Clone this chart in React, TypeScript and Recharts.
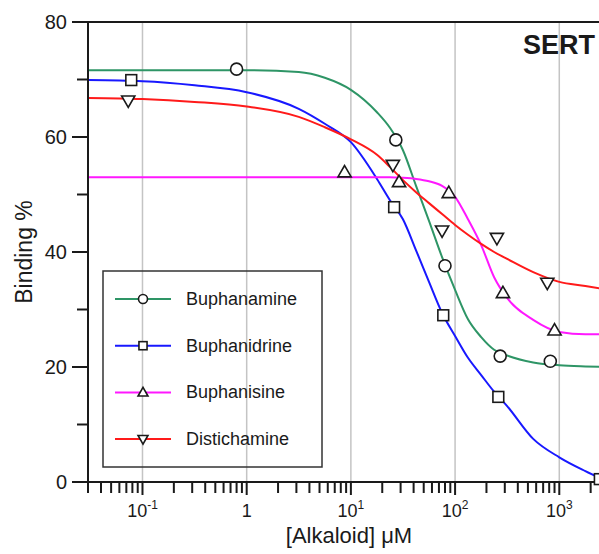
import React from 'react';
import { ComposedChart, Line, Scatter, XAxis, YAxis, ReferenceLine } from 'recharts';

const fitConc = [0.03, 0.1, 0.316, 1, 3.16, 5.62, 10, 17.8, 23.7, 31.6, 42.2, 56.2, 75, 100, 133, 178, 237, 316, 562, 1000, 1780, 3000];

const buphanamineFit = [71.6, 71.6, 71.6, 71.6, 71.3, 70.3, 68.2, 64.3, 61.6, 57.7, 51.5, 45.4, 39.1, 33.4, 28.3, 25.2, 23.0, 22.0, 20.8, 20.3, 20.1, 20.0];
const buphanidrineFit = [69.9, 69.7, 69.0, 67.8, 64.9, 62.3, 59.1, 52.7, 49.0, 45.7, 40.3, 34.8, 29.4, 25.4, 21.6, 18.6, 15.7, 13.2, 7.5, 4.3, 1.9, 0.0];
const buphanisineFit = [53.0, 53.0, 53.0, 53.0, 53.0, 53.0, 53.0, 53.0, 53.0, 52.9, 52.7, 52.3, 51.5, 49.6, 45.7, 41.2, 35.6, 32.0, 28.2, 26.1, 25.7, 25.7];
const distichamineFit = [66.8, 66.6, 66.1, 65.3, 63.5, 61.7, 59.6, 56.9, 54.8, 52.5, 50.4, 48.5, 46.6, 44.7, 43.0, 41.4, 40.0, 38.8, 36.5, 34.8, 34.1, 33.4];

// measured points
const buphanamineX = [0.8, 27, 80, 271, 820];
const buphanamineY = [71.8, 59.5, 37.6, 21.9, 21.0];
const buphanidrineX = [0.078, 26, 77, 260, 2450];
const buphanidrineY = [69.9, 47.8, 29.0, 14.8, 0.5];
const buphanisineX = [8.7, 29, 87, 288, 900];
const buphanisineY = [53.9, 52.2, 50.3, 32.9, 26.4];
const distichamineX = [0.073, 25.3, 75, 252, 767];
const distichamineY = [66.3, 55.1, 43.7, 42.4, 34.6];

const majorX = [0.1, 1, 10, 100, 1000];
const majorXBase = ['10', '1', '10', '10', '10'];
const majorXExp = ['-1', '', '1', '2', '3'];
const xTicks = [
  0.03, 0.04, 0.05, 0.06, 0.07, 0.08, 0.09,
  0.1, 0.2, 0.3, 0.4, 0.5, 0.6, 0.7, 0.8, 0.9,
  1, 2, 3, 4, 5, 6, 7, 8, 9,
  10, 20, 30, 40, 50, 60, 70, 80, 90,
  100, 200, 300, 400, 500, 600, 700, 800, 900,
  1000, 2000, 3000,
];
const yTicks = [0, 10, 20, 30, 40, 50, 60, 70, 80];
const yMajor = [0, 20, 40, 60, 80];

const FONT = '"Liberation Sans", Arial, sans-serif';
const INK = '#1a1a1a';

const toPoints = (xs: number[], ys: number[]) => xs.map((x, i) => ({ x, y: ys[i] }));

const series = [
  { name: 'Buphanamine', color: '#2e9566', fit: buphanamineFit, pts: toPoints(buphanamineX, buphanamineY), marker: 'circle' },
  { name: 'Buphanidrine', color: '#1818ff', fit: buphanidrineFit, pts: toPoints(buphanidrineX, buphanidrineY), marker: 'square' },
  { name: 'Buphanisine', color: '#ff18ff', fit: buphanisineFit, pts: toPoints(buphanisineX, buphanisineY), marker: 'up' },
  { name: 'Distichamine', color: '#ff1a1a', fit: distichamineFit, pts: toPoints(distichamineX, distichamineY), marker: 'down' },
];

const Marker = ({ kind, cx, cy, s }: { kind: string; cx: number; cy: number; s: number }) => {
  const common = { fill: '#fff', stroke: INK, strokeWidth: 1.6 };
  if (kind === 'circle') return <circle cx={cx} cy={cy} r={s * 0.5} {...common} />;
  if (kind === 'square') return <rect x={cx - s * 0.45} y={cy - s * 0.45} width={s * 0.9} height={s * 0.9} {...common} />;
  const h = s * 0.5;
  if (kind === 'up') {
    return <polygon points={`${cx},${cy - h * 1.1} ${cx - h * 1.1},${cy + h * 0.8} ${cx + h * 1.1},${cy + h * 0.8}`} {...common} />;
  }
  return <polygon points={`${cx},${cy + h * 1.1} ${cx - h * 1.1},${cy - h * 0.8} ${cx + h * 1.1},${cy - h * 0.8}`} {...common} />;
};

const XTick = (props: any) => {
  const { x, y, payload } = props;
  const idx = majorX.findIndex((m) => Math.abs(m - payload.value) < 1e-9);
  const major = idx >= 0;
  return (
    <g>
      <line x1={x} x2={x} y1={y} y2={y + (major ? 13 : 11)} stroke={INK} strokeWidth={2} />
      {major && (
        <text x={x} y={y + 35} textAnchor="middle" fontFamily={FONT} fontSize={18} fill={INK}>
          <tspan>{majorXBase[idx]}</tspan>
          {majorXExp[idx] && (
            <tspan dy={-8} fontSize={12}>{majorXExp[idx]}</tspan>
          )}
        </text>
      )}
    </g>
  );
};

const YTick = (props: any) => {
  const { x, y, payload } = props;
  const major = yMajor.includes(payload.value);
  return (
    <g>
      <line x1={x - (major ? 16 : 11)} x2={x} y1={y} y2={y} stroke={INK} strokeWidth={2} />
      {major && (
        <text x={x - 21} y={y + 7} textAnchor="end" fontFamily={FONT} fontSize={20} fill={INK}>
          {payload.value}
        </text>
      )}
    </g>
  );
};

export default function App() {
  return (
    <div style={{ position: 'absolute', left: 0, top: 0, width: 599, height: 554, overflow: 'hidden', background: '#fff' }}>
      <ComposedChart width={620} height={554} margin={{ top: 22, right: 11, bottom: 0, left: 0 }}>
        <XAxis
          dataKey="x"
          type="number"
          scale="log"
          domain={[0.03, 3000]}
          allowDataOverflow
          ticks={xTicks}
          interval={0}
          tick={(p: any) => <XTick {...p} />}
          tickLine={false}
          tickSize={0}
          tickMargin={0}
          axisLine={{ stroke: INK, strokeWidth: 2 }}
          height={72}
        />
        <YAxis
          type="number"
          domain={[0, 80]}
          ticks={yTicks}
          interval={0}
          tick={(p: any) => <YTick {...p} />}
          tickLine={false}
          tickSize={0}
          tickMargin={0}
          axisLine={{ stroke: INK, strokeWidth: 2 }}
          width={88}
        />
        {majorX.map((m) => (
          <ReferenceLine key={m} x={m} stroke="#c4c4c4" strokeWidth={1.5} />
        ))}
        <ReferenceLine y={80} stroke={INK} strokeWidth={2} />
        {series.map((s) => (
          <Line
            key={s.name + '-fit'}
            data={toPoints(fitConc, s.fit)}
            dataKey="y"
            type="monotone"
            stroke={s.color}
            strokeWidth={2}
            dot={false}
            isAnimationActive={false}
          />
        ))}
        {series.map((s) => (
          <Scatter
            key={s.name + '-pts'}
            data={s.pts}
            dataKey="y"
            isAnimationActive={false}
            shape={(p: any) => <Marker kind={s.marker} cx={p.cx} cy={p.cy} s={12} />}
          />
        ))}
      </ComposedChart>
      <svg width={599} height={554} style={{ position: 'absolute', left: 0, top: 0, pointerEvents: 'none' }}>
        <text x={595} y={54} textAnchor="end" fontFamily={FONT} fontSize={27} fontWeight="bold" fill={INK}>SERT</text>
        <text transform="translate(32,252) rotate(-90)" textAnchor="middle" fontFamily={FONT} fontSize={23} fill={INK}>Binding %</text>
        <text x={349} y={543} textAnchor="middle" fontFamily={FONT} fontSize={22} fill={INK}>[Alkaloid] μM</text>
        <rect x={103} y={271} width={219} height={196} fill="none" stroke="#333" strokeWidth={1.5} />
        {series.map((s, i) => {
          const ry = 299 + i * 46.7;
          return (
            <g key={s.name}>
              <line x1={115} x2={171} y1={ry} y2={ry} stroke={s.color} strokeWidth={2} />
              <Marker kind={s.marker} cx={143} cy={ry} s={9} />
              <text x={186} y={ry + 6} fontFamily={FONT} fontSize={18} fill={INK}>{s.name}</text>
            </g>
          );
        })}
      </svg>
    </div>
  );
}
